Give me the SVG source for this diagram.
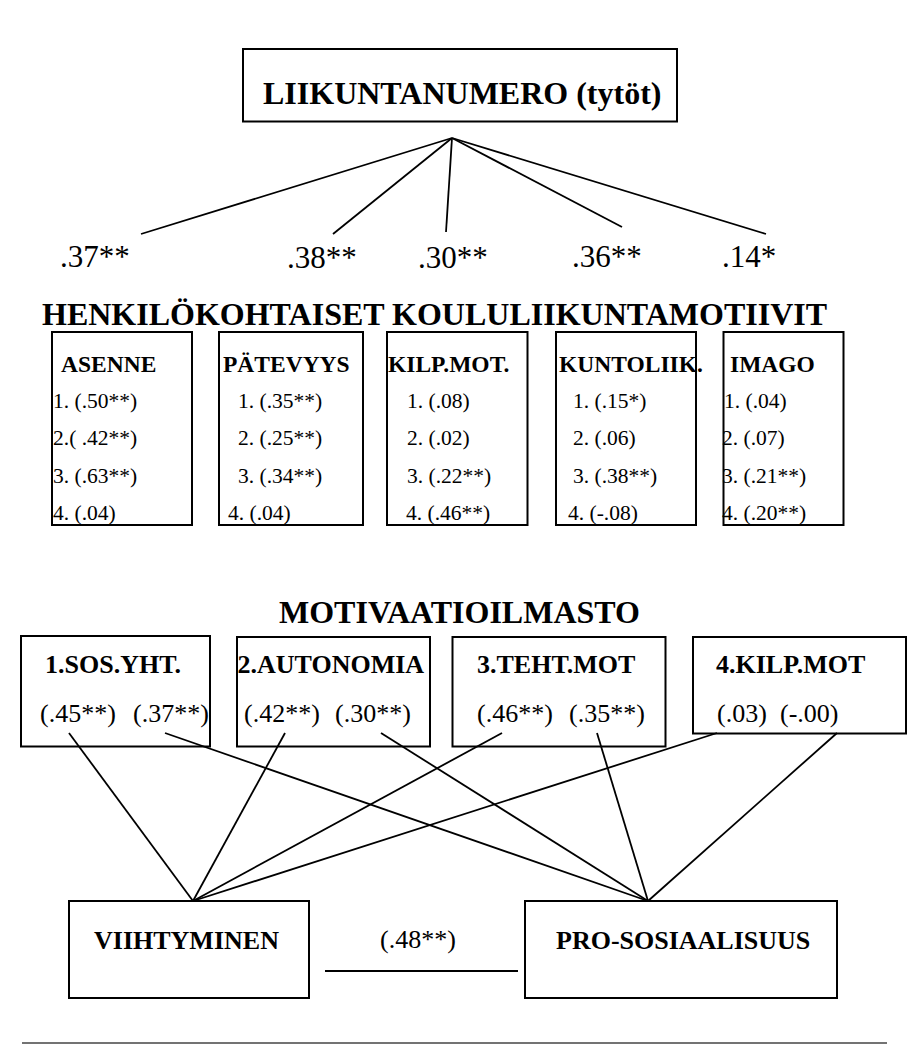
<svg xmlns="http://www.w3.org/2000/svg" width="908" height="1056" viewBox="0 0 908 1056">
<style>
.box{fill:none;stroke:#000;stroke-width:2}
.ln{stroke:#000;stroke-width:1.8;fill:none}
.t{font-family:"Liberation Serif","Times New Roman",serif;fill:#000}
.b{font-weight:bold}
.big{font-size:32px}
.val{font-size:31px}
.hd{font-size:23.5px}
.it{font-size:21.5px}
.m{font-size:26px}
</style>
<rect width="908" height="1056" fill="#fff"/>

<g id="liikuntanumero">
<rect class="box" x="243" y="49" width="434" height="72.5"/>
<text class="t b big" x="263" y="104">LIIKUNTANUMERO (tytöt)</text>
</g>

<g id="values">
<text class="t val" x="60" y="267">.37**</text>
<text class="t val" x="287" y="268">.38**</text>
<text class="t val" x="418" y="268">.30**</text>
<text class="t val" x="572" y="267">.36**</text>
<text class="t val" x="722" y="267">.14*</text>
</g>

<g id="heading-motiivit">
<text class="t b big" x="42" y="325">HENKILÖKOHTAISET KOULULIIKUNTAMOTIIVIT</text>
</g>

<g id="asenne">
<rect class="box" x="52" y="332" width="140" height="193"/>
<text class="t b hd" x="61" y="372">ASENNE</text>
<text class="t it" x="53" y="408">1. (.50**)</text>
<text class="t it" x="53" y="445">2.( .42**)</text>
<text class="t it" x="53" y="483">3. (.63**)</text>
<text class="t it" x="53" y="520">4. (.04)</text>
</g>

<g id="patevyys">
<rect class="box" x="219" y="332" width="144" height="193"/>
<text class="t b hd" x="223" y="372">PÄTEVYYS</text>
<text class="t it" x="238" y="408">1. (.35**)</text>
<text class="t it" x="238" y="445">2. (.25**)</text>
<text class="t it" x="238" y="483">3. (.34**)</text>
<text class="t it" x="228" y="520">4. (.04)</text>
</g>

<g id="kilpmot">
<rect class="box" x="387" y="332" width="140.5" height="193"/>
<text class="t b hd" x="388" y="372">KILP.MOT.</text>
<text class="t it" x="407" y="408">1. (.08)</text>
<text class="t it" x="407" y="445">2. (.02)</text>
<text class="t it" x="407" y="483">3. (.22**)</text>
<text class="t it" x="406" y="520">4. (.46**)</text>
</g>

<g id="kuntoliik">
<rect class="box" x="556" y="332" width="140" height="193"/>
<text class="t b hd" x="559" y="372">KUNTOLIIK.</text>
<text class="t it" x="573" y="408">1. (.15*)</text>
<text class="t it" x="573" y="445">2. (.06)</text>
<text class="t it" x="573" y="483">3. (.38**)</text>
<text class="t it" x="568" y="520">4. (-.08)</text>
</g>

<g id="imago">
<rect class="box" x="723.5" y="332" width="120" height="193"/>
<text class="t b hd" x="730" y="372">IMAGO</text>
<text class="t it" x="724" y="408">1. (.04)</text>
<text class="t it" x="722" y="445">2. (.07)</text>
<text class="t it" x="722" y="483">3. (.21**)</text>
<text class="t it" x="722" y="520">4. (.20**)</text>
</g>

<g id="heading-motivaatioilmasto">
<text class="t b big" x="279" y="623">MOTIVAATIOILMASTO</text>
</g>

<g id="sosyht">
<rect class="box" x="21" y="636" width="189" height="110.5"/>
<text class="t b m" x="45" y="673">1.SOS.YHT.</text>
<text class="t m" x="40" y="722">(.45**)</text>
<text class="t m" x="133" y="722">(.37**)</text>
</g>

<g id="autonomia">
<rect class="box" x="237" y="637" width="193" height="109.5"/>
<text class="t b m" x="237.5" y="673">2.AUTONOMIA</text>
<text class="t m" x="244" y="722">(.42**)</text>
<text class="t m" x="335" y="722">(.30**)</text>
</g>

<g id="tehtmot">
<rect class="box" x="452.5" y="637" width="213" height="109.5"/>
<text class="t b m" x="477" y="673">3.TEHT.MOT</text>
<text class="t m" x="477" y="722">(.46**)</text>
<text class="t m" x="569" y="722">(.35**)</text>
</g>

<g id="kilpmot2">
<rect class="box" x="693" y="637" width="213" height="96.5"/>
<text class="t b m" x="716" y="673">4.KILP.MOT</text>
<text class="t m" x="717" y="722">(.03)</text>
<text class="t m" x="780" y="722">(-.00)</text>
</g>

<g id="viihtyminen">
<rect class="box" x="69" y="901" width="240" height="97"/>
<text class="t b m" x="94" y="949">VIIHTYMINEN</text>
</g>

<g id="correlation">
<text class="t m" x="380" y="948">(.48**)</text>
</g>

<g id="prososiaalisuus">
<rect class="box" x="525" y="901" width="312" height="97"/>
<text class="t b m" x="556" y="949">PRO-SOSIAALISUUS</text>
</g>

<g id="connectors">
<line class="ln" x1="452" y1="138" x2="141" y2="234"/>
<line class="ln" x1="452" y1="138" x2="333" y2="234"/>
<line class="ln" x1="452" y1="138" x2="446" y2="232"/>
<line class="ln" x1="452" y1="138" x2="622" y2="227"/>
<line class="ln" x1="452" y1="138" x2="766" y2="234"/>

<line class="ln" x1="69" y1="733" x2="193" y2="901"/>
<line class="ln" x1="285" y1="733" x2="193" y2="901"/>
<line class="ln" x1="502" y1="733" x2="193" y2="901"/>
<line class="ln" x1="717" y1="733" x2="193" y2="901"/>

<line class="ln" x1="165" y1="733" x2="648" y2="901"/>
<line class="ln" x1="381" y1="733" x2="648" y2="901"/>
<line class="ln" x1="597" y1="733" x2="648" y2="901"/>
<line class="ln" x1="837" y1="733" x2="648" y2="901"/>

<line class="ln" x1="325" y1="971" x2="518" y2="971"/>
</g>

<line x1="22" y1="1043" x2="887" y2="1043" stroke="#444" stroke-width="1.5"/>
</svg>
